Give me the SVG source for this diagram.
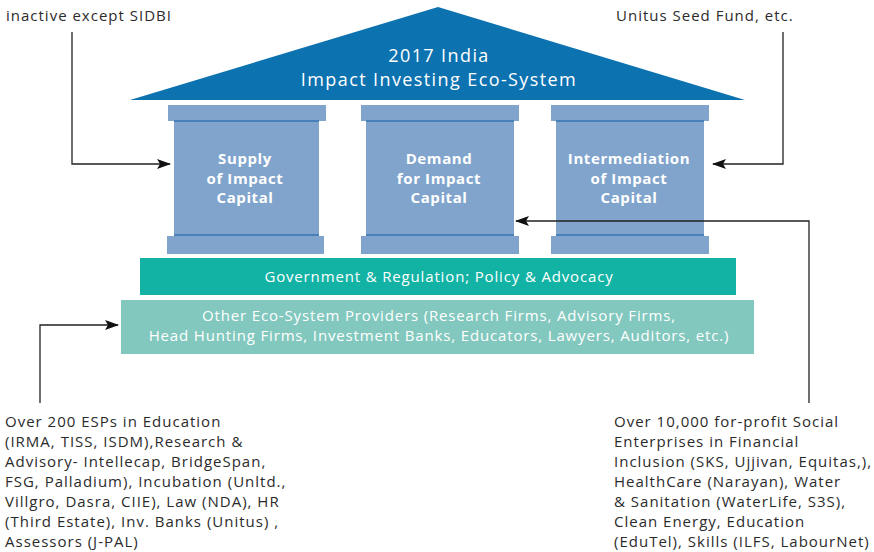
<svg xmlns="http://www.w3.org/2000/svg" width="874" height="552" viewBox="0 0 874 552">
<defs>
<style>
.t{font-family:"Open Sans","Liberation Sans",sans-serif;font-size:15px;letter-spacing:1px;fill:#2b2b2b}
.w{font-family:"Open Sans","Liberation Sans",sans-serif;fill:#ffffff;text-anchor:middle}
.pb{font-weight:bold;font-size:15px;letter-spacing:0.6px}
.band{font-size:15px;letter-spacing:0.85px}
.roof{font-size:18px;letter-spacing:1.4px}
.pil{fill:#80a4cc}
.edge{fill:#4a80b8}
.c{fill:none;stroke:#222;stroke-width:1.3}
</style>
<marker id="ah" markerWidth="14" markerHeight="10" refX="13" refY="5" orient="auto" markerUnits="userSpaceOnUse">
<path d="M0,0 L14,5 L0,10 L3,5 Z" fill="#111"/>
</marker>
</defs>
<rect width="874" height="552" fill="#ffffff"/>

<g id="roof">
<polygon points="438,7 130,100 745,100" fill="#0d72b0"/>
<text class="w roof" x="439" y="62">2017 India</text>
<text class="w roof" x="439" y="86">Impact Investing Eco-System</text>
</g>

<g id="supply">
<rect class="pil" x="168" y="105" width="158" height="16"/>
<rect class="pil" x="174" y="120" width="145" height="116"/>
<rect class="edge" x="174" y="120" width="145" height="2"/>
<rect class="edge" x="174" y="234" width="145" height="2"/>
<rect class="pil" x="167" y="236" width="157" height="18"/>
<text class="w pb" x="245" y="164">Supply</text>
<text class="w pb" x="245" y="184">of Impact</text>
<text class="w pb" x="245" y="203">Capital</text>
</g>

<g id="demand">
<rect class="pil" x="361" y="105" width="158" height="16"/>
<rect class="pil" x="366" y="120" width="148" height="116"/>
<rect class="edge" x="366" y="120" width="148" height="2"/>
<rect class="edge" x="366" y="234" width="148" height="2"/>
<rect class="pil" x="361" y="236" width="158" height="18"/>
<text class="w pb" x="439" y="164">Demand</text>
<text class="w pb" x="439" y="184">for Impact</text>
<text class="w pb" x="439" y="203">Capital</text>
</g>

<g id="intermediation">
<rect class="pil" x="551" y="105" width="158" height="16"/>
<rect class="pil" x="556" y="120" width="148" height="116"/>
<rect class="edge" x="556" y="120" width="148" height="2"/>
<rect class="edge" x="556" y="234" width="148" height="2"/>
<rect class="pil" x="551" y="236" width="158" height="18"/>
<text class="w pb" x="629" y="164">Intermediation</text>
<text class="w pb" x="629" y="184">of Impact</text>
<text class="w pb" x="629" y="203">Capital</text>
</g>

<g id="government">
<rect x="140" y="258" width="596" height="37" fill="#12b3a4"/>
<text class="w band" x="439" y="282">Government &amp; Regulation; Policy &amp; Advocacy</text>
</g>

<g id="providers">
<rect x="121" y="300" width="633" height="54" fill="#82c8be"/>
<text class="w band" x="439" y="321">Other Eco-System Providers (Research Firms, Advisory Firms,</text>
<text class="w band" x="439" y="341">Head Hunting Firms, Investment Banks, Educators, Lawyers, Auditors, etc.)</text>
</g>

<g id="note-top-left">
<text class="t" x="6" y="21">inactive except SIDBI</text>
</g>

<g id="note-top-right">
<text class="t" x="616" y="21">Unitus Seed Fund, etc.</text>
</g>

<g id="note-bottom-left">
<text class="t" x="5" y="427">Over 200 ESPs in Education</text>
<text class="t" x="5" y="447">(IRMA, TISS, ISDM),Research &amp;</text>
<text class="t" x="5" y="467">Advisory- Intellecap, BridgeSpan,</text>
<text class="t" x="5" y="487">FSG, Palladium), Incubation (Unltd.,</text>
<text class="t" x="5" y="507">Villgro, Dasra, CIIE), Law (NDA), HR</text>
<text class="t" x="5" y="527">(Third Estate), Inv. Banks (Unitus) ,</text>
<text class="t" x="5" y="547">Assessors (J-PAL)</text>
</g>

<g id="note-bottom-right">
<text class="t" x="614" y="427">Over 10,000 for-profit Social</text>
<text class="t" x="614" y="447">Enterprises in Financial</text>
<text class="t" x="614" y="467">Inclusion (SKS, Ujjivan, Equitas,),</text>
<text class="t" x="614" y="487">HealthCare (Narayan), Water</text>
<text class="t" x="614" y="507">&amp; Sanitation (WaterLife, S3S),</text>
<text class="t" x="614" y="527">Clean Energy, Education</text>
<text class="t" x="614" y="547">(EduTel), Skills (ILFS, LabourNet)</text>
</g>

<g id="connectors">
<path class="c" d="M72,32 V164 H170" marker-end="url(#ah)"/>
<path class="c" d="M783,32 V164 H713" marker-end="url(#ah)"/>
<path class="c" d="M809,403 V221 H516" marker-end="url(#ah)"/>
<path class="c" d="M40,403 V325 H118" marker-end="url(#ah)"/>
</g>
</svg>
